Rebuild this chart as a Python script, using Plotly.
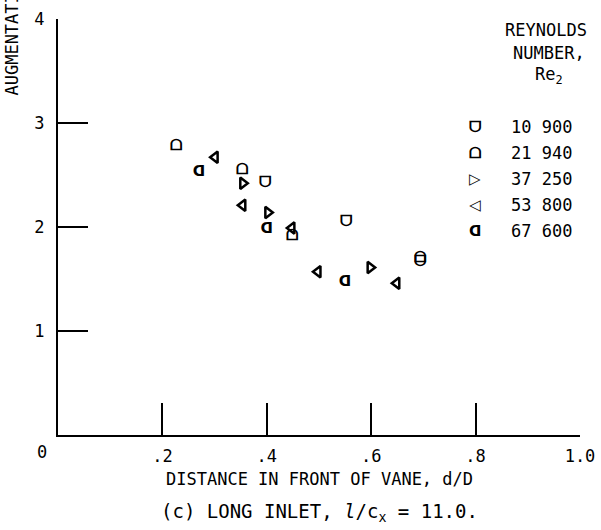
import plotly.graph_objects as go

# ---- data ----
re_labels = ["10 900", "21 940", "37 250", "53 800", "67 600"]
re_symbols = ["ᗜ", "ᗝ", "▷", "◁", "ᗡ"]

d_10900 = [0.397, 0.552, 0.693]
a_10900 = [2.42, 2.05, 1.66]

d_21940 = [0.226, 0.352, 0.448, 0.693]
a_21940 = [2.78, 2.55, 1.91, 1.70]

d_37250 = [0.354, 0.402, 0.598]
a_37250 = [2.42, 2.14, 1.61]

d_53800 = [0.301, 0.354, 0.448, 0.498, 0.649]
a_53800 = [2.67, 2.21, 1.99, 1.57, 1.46]

d_67600 = [0.270, 0.400, 0.550]
a_67600 = [2.53, 1.98, 1.47]

x_ticks = [0.2, 0.4, 0.6, 0.8, 1.0]
x_ticktext = [".2", ".4", ".6", ".8", "1.0"]
y_ticks = [1, 2, 3, 4]
y_ticktext = ["1", "2", "3", "4"]

FONT = "DejaVu Sans Mono, monospace"
SYMFONT = "DejaVu Sans, sans-serif"
FS = 17

fig = go.Figure()

series = [
    (d_10900, a_10900, re_symbols[0], "text"),
    (d_21940, a_21940, re_symbols[1], "text"),
    (d_37250, a_37250, "triangle-right-open", "marker"),
    (d_53800, a_53800, "triangle-left-open", "marker"),
    (d_67600, a_67600, re_symbols[4], "text"),
]
for (xs, ys, sym, kind), name in zip(series, re_labels):
    if kind == "text":
        fig.add_trace(go.Scatter(
            x=xs, y=ys, mode="text", text=[sym] * len(xs),
            textposition="middle center",
            textfont=dict(family=SYMFONT, size=15, color="black", weight="bold"),
            name=name, showlegend=False, cliponaxis=False))
    else:
        fig.add_trace(go.Scatter(
            x=xs, y=ys, mode="markers",
            marker=dict(symbol=sym, size=10, color="black",
                        line=dict(color="black", width=2.5)),
            name=name, showlegend=False, cliponaxis=False))

fig.update_layout(
    template="none",
    width=601, height=530,
    margin=dict(l=58, r=21, t=19, b=95, autoexpand=False),
    paper_bgcolor="white", plot_bgcolor="white",
    font=dict(family=FONT, size=FS, color="black"),
    showlegend=False,
    xaxis=dict(range=[0, 1.0], tickvals=x_ticks, ticktext=x_ticktext,
               showline=True, linecolor="black", linewidth=2,
               ticks="inside", ticklen=32, tickwidth=2, tickcolor="black",
               showgrid=False, zeroline=False, ticklabelstandoff=5,
               automargin=False, tickfont=dict(family=FONT, size=FS)),
    yaxis=dict(range=[0, 4], tickvals=y_ticks, ticktext=y_ticktext,
               showline=True, linecolor="black", linewidth=2,
               ticks="inside", ticklen=30, tickwidth=2, tickcolor="black",
               showgrid=False, zeroline=False, ticklabelstandoff=8,
               automargin=False, tickfont=dict(family=FONT, size=FS)),
)

ann = []
ann.append(dict(text="0", xref="paper", yref="paper", x=0, y=0,
                xshift=-16, yshift=-17, showarrow=False,
                xanchor="center", yanchor="middle",
                font=dict(family=FONT, size=FS)))
ann.append(dict(text="DISTANCE IN FRONT OF VANE, d/D", xref="paper", yref="paper",
                x=0.5, y=0, yshift=-44, showarrow=False,
                xanchor="center", yanchor="middle",
                font=dict(family=FONT, size=FS)))
ann.append(dict(text="(c) LONG INLET, <i>l</i>/c<sub>x</sub> = 11.0.",
                xref="paper", yref="paper",
                x=0.5, y=0, yshift=-77, showarrow=False,
                xanchor="center", yanchor="middle",
                font=dict(family=FONT, size=19)))
ann.append(dict(text="AUGMENTATION FACTOR", xref="paper", yref="paper",
                x=0, xshift=-46, y=0.81, textangle=-90, showarrow=False,
                xanchor="center", yanchor="bottom",
                font=dict(family=FONT, size=FS)))
for txt, ypx, xc in [("REYNOLDS", 30, 546), ("NUMBER,", 53, 549),
                     ("Re<sub>2</sub>", 76, 549)]:
    ann.append(dict(text=txt, xref="paper", yref="paper",
                    x=(xc - 58) / 522, y=(435 - ypx) / 416, showarrow=False,
                    xanchor="center", yanchor="middle",
                    font=dict(family=FONT, size=FS)))
for i, (lab, sym) in enumerate(zip(re_labels, re_symbols)):
    ypx = 127 + 26 * i
    ann.append(dict(text=sym, xref="paper", yref="paper",
                    x=(475 - 58) / 522, y=(435 - ypx) / 416, showarrow=False,
                    xanchor="center", yanchor="middle",
                    font=dict(family=SYMFONT, size=15, weight="bold")))
    ann.append(dict(text=lab, xref="paper", yref="paper",
                    x=(509 - 58) / 522, y=(435 - ypx) / 416, showarrow=False,
                    xanchor="left", yanchor="middle",
                    font=dict(family=FONT, size=FS)))
fig.update_layout(annotations=ann)

fig.write_html("out.html",
               config={"displayModeBar": False},
               post_script="document.body.style.margin='0';"
                           "document.body.style.overflow='hidden';")
